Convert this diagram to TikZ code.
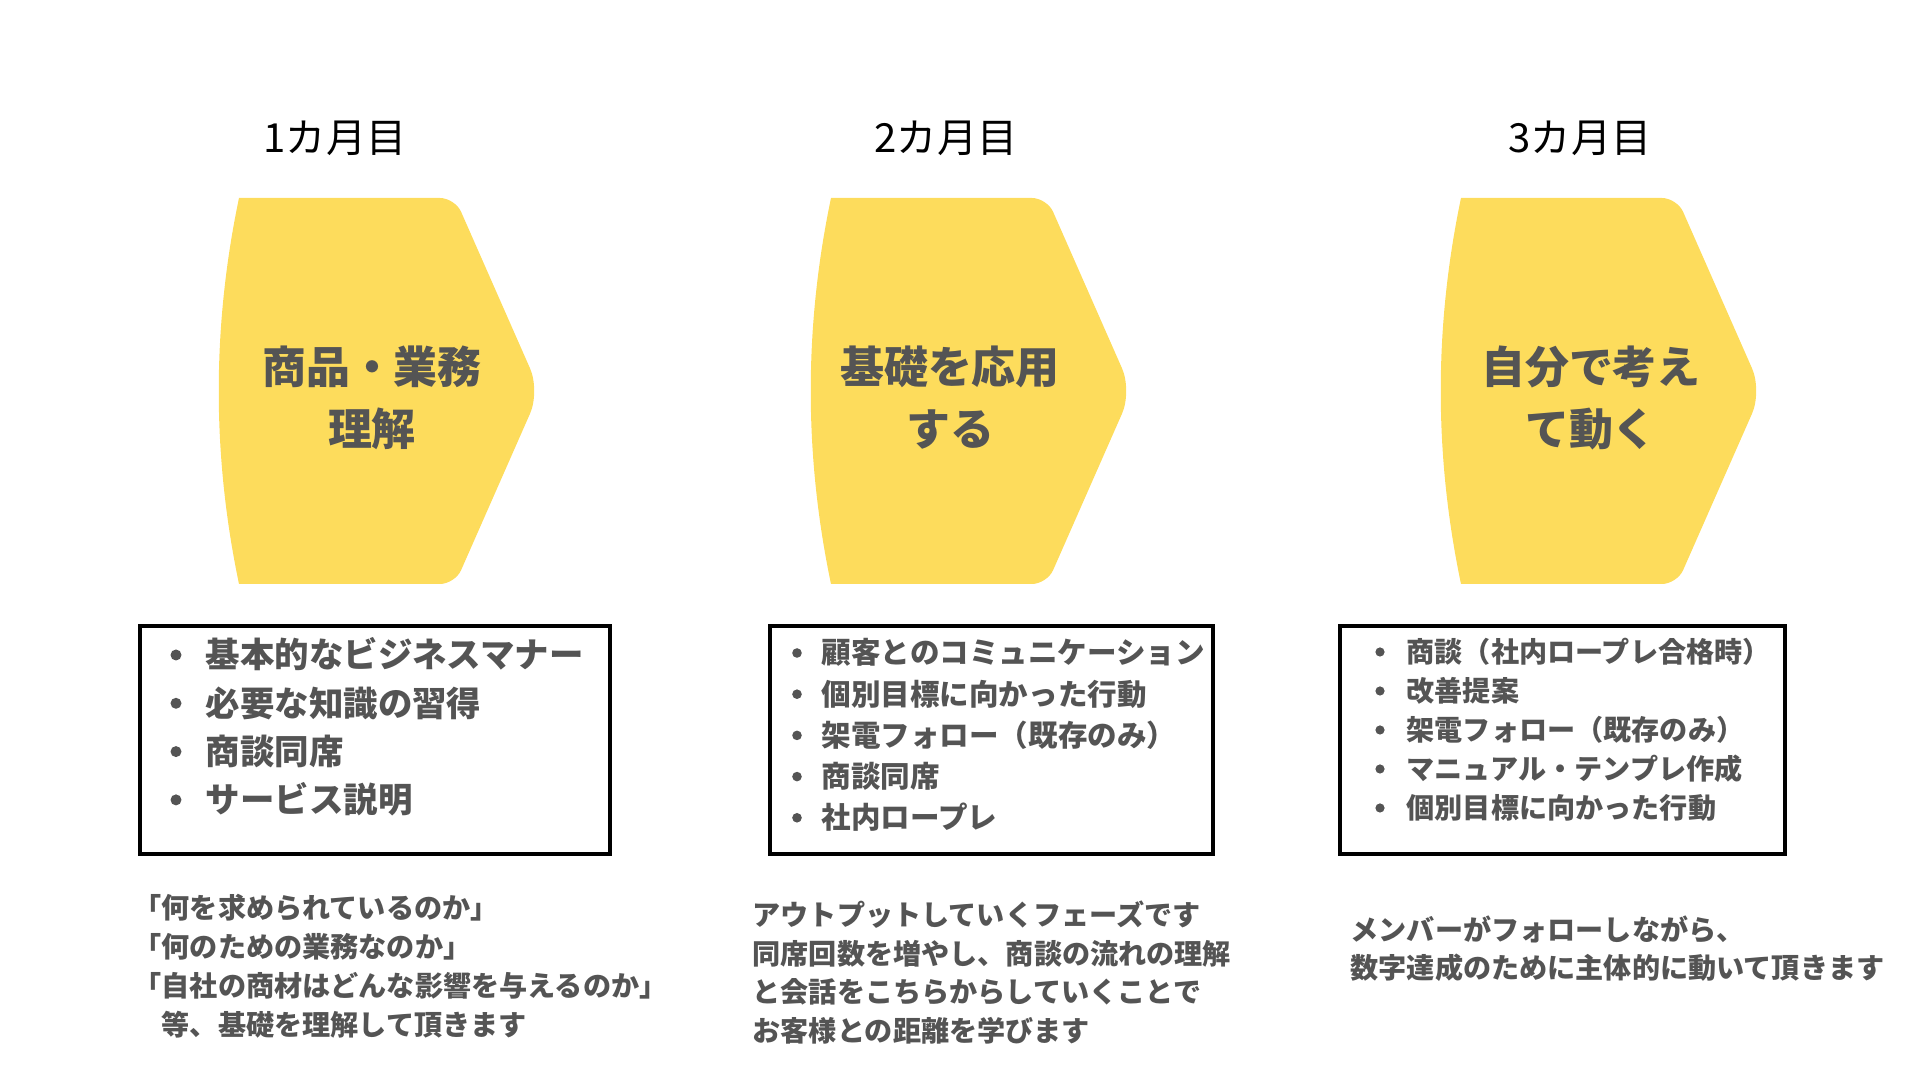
\documentclass[tikz,border=0pt]{standalone}
\usepackage{fontspec}
\newfontfamily\jp{Noto Sans CJK JP}
\definecolor{phaseyellow}{HTML}{FDDC5C}
\definecolor{textgray}{HTML}{545454}

\begin{document}
\begin{tikzpicture}[x=0.01cm, y=-0.01cm,
  month/.style={text=black, font=\jp\fontsize{11.4}{14}\selectfont},
  phase/.style={fill=phaseyellow},
  phasetext/.style={text=textgray, align=center, font=\jp\bfseries\fontsize{12.5}{17.6}\selectfont},
  listbox/.style={draw=black, line width=1.2pt, minimum height=2.28cm},
  item/.style={text=textgray, anchor=base west, font=\jp\bfseries\fontsize{#1}{#1}\selectfont},
  dot/.style={fill=textgray}]
\tikzstyle{every node}+=[inner sep=0pt]
\useasboundingbox (0,0) rectangle (1920,1080);
\foreach \x in {239,831,1461} {
  \fill[phase] (\x,198) [rounded corners=4.3pt] -- (\x+216,198) [rounded corners=7pt] -- (\x+301,391) [rounded corners=4.3pt] -- (\x+216,584) [sharp corners] -- (\x,584) .. controls (\x-27,455) and (\x-27,327) .. (\x,198) -- cycle;
}
\node[month] (m1) at (335,138) {1カ月目};
\node[month] (m2) at (946,138) {2カ月目};
\node[month] (m3) at (1580,138) {3カ月目};
\node[phasetext] (p1) at (372,398) {商品・業務\\理解};
\node[phasetext] (p2) at (950,398) {基礎を応用\\する};
\node[phasetext] (p3) at (1591,398) {自分で考え\\て動く};
\node[listbox, minimum width=4.70cm] (box1) at (375,740) {};
\node[listbox, minimum width=4.43cm] (box2) at (991.5,740) {};
\node[listbox, minimum width=4.45cm] (box3) at (1562.5,740) {};
\foreach \t [count=\i from 0] in {基本的なビジネスマナー, 必要な知識の習得, 商談同席, サービス説明} {
  \fill[dot] (176,655+48.3*\i) circle (5.5);
  \node[item=9.8] (a\i) at (205,668+48.3*\i) {\t};
}
\foreach \t [count=\i from 0] in {顧客とのコミュニケーション, 個別目標に向かった行動, 架電フォロー（既存のみ）, 商談同席, 社内ロープレ} {
  \fill[dot] (797,653+41.2*\i) circle (4.8);
  \node[item=8.4] (b\i) at (821,664+41.2*\i) {\t};
}
\foreach \t [count=\i from 0] in {商談（社内ロープレ合格時）, 改善提案, 架電フォロー（既存のみ）, マニュアル・テンプレ作成, 個別目標に向かった行動} {
  \fill[dot] (1380,652+39*\i) circle (4.6);
  \node[item=8] (c\i) at (1406,663+39*\i) {\t};
}
\foreach \t [count=\i from 0] in {「何を求められているのか」, 「何のための業務なのか」, 「自社の商材はどんな影響を与えるのか」, 　等、基礎を理解して頂きます} {
  \node[item=8] (n\i) at (133,919+39*\i) {\t};
}
\foreach \t [count=\i from 0] in {アウトプットしていくフェーズです, 同席回数を増やし、商談の流れの理解, と会話をこちらからしていくことで, お客様との距離を学びます} {
  \node[item=8] (o\i) at (752,926+38.5*\i) {\t};
}
\foreach \t [count=\i from 0] in {メンバーがフォローしながら、, 数字達成のために主体的に動いて頂きます} {
  \node[item=8] (q\i) at (1350,941+38*\i) {\t};
}
\end{tikzpicture}
\end{document}
